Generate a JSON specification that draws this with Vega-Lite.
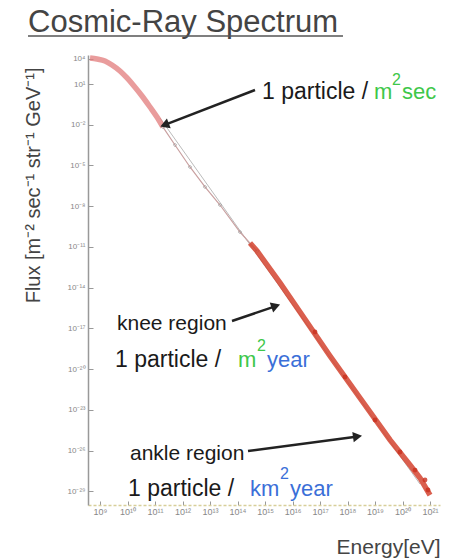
{
  "$schema": "https://vega.github.io/schema/vega-lite/v6.json",
  "width": 352,
  "height": 450,
  "autosize": {"type": "none"},
  "padding": {"left": 88, "top": 55, "right": 9, "bottom": 53},
  "background": "white",
  "config": {"view": {"stroke": null}, "font": "Liberation Sans"},
  "datasets": {
    "heading": [{"text": "Cosmic-Ray Spectrum", "E": 2.41e6, "E2": 6.85e17, "F": 1.72e7, "F2": 5.68e6}],
    "fit": [{"E": 1.52e11, "F": 3.13e-2}, {"E": 4.33e20, "F": 3.47e-29}],
    "spectrum": [
      {"series": "low", "E": 4.33e8, "F": 1.31e4},
      {"series": "low", "E": 7.78e8, "F": 1.0e4},
      {"series": "low", "E": 1.52e9, "F": 5.75e3},
      {"series": "low", "E": 2.73e9, "F": 1.91e3},
      {"series": "low", "E": 5.33e9, "F": 363},
      {"series": "low", "E": 9.59e9, "F": 52.5},
      {"series": "low", "E": 1.72e10, "F": 7.13},
      {"series": "low", "E": 3.37e10, "F": 1.31},
      {"series": "low", "E": 6.58e10, "F": 0.202},
      {"series": "low", "E": 1.18e11, "F": 0.0372},
      {"series": "low", "E": 1.95e11, "F": 6.76e-3},
      {"series": "mid", "E": 1.95e11, "F": 6.76e-3},
      {"series": "mid", "E": 5.33e11, "F": 3.24e-4},
      {"series": "mid", "E": 1.87e12, "F": 7.76e-6},
      {"series": "mid", "E": 6.58e12, "F": 2.63e-7},
      {"series": "mid", "E": 2.31e13, "F": 1.23e-8},
      {"series": "mid", "E": 1.23e14, "F": 1.26e-10},
      {"series": "mid", "E": 5.12e14, "F": 5.01e-12},
      {"series": "high", "E": 2.85e14, "F": 1.95e-11},
      {"series": "high", "E": 5.12e14, "F": 5.01e-12},
      {"series": "high", "E": 3.51e15, "F": 2.24e-14},
      {"series": "high", "E": 1.87e16, "F": 1.62e-16},
      {"series": "high", "E": 2.31e17, "F": 9.33e-20},
      {"series": "high", "E": 2.85e18, "F": 7.59e-23},
      {"series": "high", "E": 3.51e19, "F": 6.17e-26},
      {"series": "high", "E": 1.87e20, "F": 8.71e-28},
      {"series": "high", "E": 4.33e20, "F": 9.77e-29},
      {"series": "high", "E": 1.0e21, "F": 5.37e-30}
    ],
    "scatter": [
      {"E": 6.58e16, "F": 5.5e-18},
      {"E": 8.11e17, "F": 2.63e-21},
      {"E": 1.0e19, "F": 1.82e-24},
      {"E": 8.11e19, "F": 7.94e-27},
      {"E": 2.85e20, "F": 3.72e-28},
      {"E": 6.58e20, "F": 6.9e-29},
      {"E": 8.45e20, "F": 1.26e-29}
    ],
    "arrows": [
      {"arrow": "sec", "E": 4.33e14, "F": 3.61, "E2": 2.51e11, "F2": 1.05e-2},
      {"arrow": "knee", "E": 6.31e13, "F": 3.55e-17, "E2": 2.18e15, "F2": 4.07e-16},
      {"arrow": "ankle", "E": 2.41e14, "F": 9.33e-27, "E2": 2.04e18, "F2": 1.07e-25}
    ],
    "labels": [
      {"role": "particle", "unit": "none", "text": "1 particle /", "E": 7.78e14, "F": 2.58},
      {"role": "unit", "unit": "m2", "text": "m", "E": 9.2e18, "F": 2.58},
      {"role": "sup", "unit": "m2", "text": "2", "E": 4.15e19, "F": 30.2},
      {"role": "unit", "unit": "sec", "text": "sec", "E": 9.59e19, "F": 2.58},
      {"role": "region", "unit": "none", "text": "knee region", "E": 4.15e9, "F": 2.14e-17},
      {"role": "particle", "unit": "none", "text": "1 particle /", "E": 3.51e9, "F": 4.79e-20},
      {"role": "unit", "unit": "m2", "text": "m", "E": 1.04e14, "F": 4.79e-20},
      {"role": "sup", "unit": "m2", "text": "2", "E": 5.12e14, "F": 5.13e-19},
      {"role": "unit", "unit": "year", "text": "year", "E": 1.18e15, "F": 4.79e-20},
      {"role": "region", "unit": "none", "text": "ankle region", "E": 1.23e10, "F": 5.62e-27},
      {"role": "particle", "unit": "none", "text": "1 particle /", "E": 1.04e10, "F": 1.51e-29},
      {"role": "unit", "unit": "km2", "text": "km", "E": 2.85e14, "F": 1.51e-29},
      {"role": "sup", "unit": "km2", "text": "2", "E": 3.51e15, "F": 1.82e-28},
      {"role": "unit", "unit": "year", "text": "year", "E": 8.11e15, "F": 1.51e-29}
    ]
  },
  "encoding": {
    "x": {
      "field": "E", "type": "quantitative",
      "scale": {"type": "log", "domain": [3.66e8, 2.31e21], "nice": false},
      "axis": {
        "values": [1e9, 1e10, 1e11, 1e12, 1e13, 1e14, 1e15, 1e16, 1e17, 1e18, 1e19, 1e20, 1e21],
        "labelExpr": "'10' + replace(replace(replace(replace(replace(replace(replace(replace(replace(replace(replace('' + round(log(datum.value)/LN10), regexp('-','g'), '⁻'), regexp('0','g'), '⁰'), regexp('1','g'), '¹'), regexp('2','g'), '²'), regexp('3','g'), '³'), regexp('4','g'), '⁴'), regexp('5','g'), '⁵'), regexp('6','g'), '⁶'), regexp('7','g'), '⁷'), regexp('8','g'), '⁸'), regexp('9','g'), '⁹')",
        "grid": false,
        "domainColor": "#d8cf9a", "domainDash": [3, 2], "domainWidth": 1.5,
        "tickColor": "#999", "tickSize": -4,
        "labelFontSize": 9, "labelColor": "#888", "labelPadding": 6,
        "title": "Energy[eV]", "titleAnchor": "end", "titleFontSize": 21, "titleFontWeight": "normal", "titleColor": "#444", "titlePadding": 20
      }
    },
    "y": {
      "field": "F", "type": "quantitative",
      "scale": {"type": "log", "domain": [1e-30, 10, 3e4], "range": [450, 29, 0], "nice": false},
      "axis": {
        "values": [1e4, 10, 1e-2, 1e-5, 1e-8, 1e-11, 1e-14, 1e-17, 1e-20, 1e-23, 1e-26, 1e-29],
        "labelExpr": "'10' + replace(replace(replace(replace(replace(replace(replace(replace(replace(replace(replace('' + round(log(datum.value)/LN10), regexp('-','g'), '⁻'), regexp('0','g'), '⁰'), regexp('1','g'), '¹'), regexp('2','g'), '²'), regexp('3','g'), '³'), regexp('4','g'), '⁴'), regexp('5','g'), '⁵'), regexp('6','g'), '⁶'), regexp('7','g'), '⁷'), regexp('8','g'), '⁸'), regexp('9','g'), '⁹')",
        "grid": false,
        "domainColor": "#999", "domainWidth": 1.5,
        "tickColor": "#999", "tickSize": -5,
        "labelFontSize": 8, "labelColor": "#888", "labelPadding": 8,
        "title": "Flux [m⁻² sec⁻¹ str⁻¹ GeV⁻¹]", "titleFontSize": 20, "titleFontWeight": "normal", "titleColor": "#444",
        "titleAnchor": "end", "titleY": 12, "titlePadding": 24
      }
    }
  },
  "layer": [
    {"data": {"name": "heading"}, "mark": {"type": "text", "align": "left", "baseline": "alphabetic", "fontSize": 31, "color": "#444", "font": "Liberation Sans"}, "encoding": {"text": {"field": "text"}}},
    {"data": {"name": "heading"}, "mark": {"type": "rule", "color": "#555", "strokeWidth": 1.5}, "encoding": {"x2": {"field": "E2"}, "y": {"field": "F2", "type": "quantitative"}}},
    {"data": {"name": "fit"}, "mark": {"type": "line", "color": "#bbb", "strokeWidth": 1}, "encoding": {}},
    {"data": {"name": "spectrum"}, "transform": [{"filter": "datum.series == 'low'"}], "mark": {"type": "line", "color": "#e27b7b", "strokeWidth": 5.5, "opacity": 0.75, "interpolate": "monotone"}, "encoding": {}},
    {"data": {"name": "spectrum"}, "transform": [{"filter": "datum.series == 'mid'"}], "mark": {"type": "line", "color": "#c9a0a0", "strokeWidth": 1.2}, "encoding": {}},
    {"data": {"name": "spectrum"}, "transform": [{"filter": "datum.series == 'mid'"}], "mark": {"type": "point", "shape": "diamond", "color": "#999", "size": 12, "strokeWidth": 1}, "encoding": {}},
    {"data": {"name": "spectrum"}, "transform": [{"filter": "datum.series == 'high'"}], "mark": {"type": "line", "color": "#d4432f", "strokeWidth": 5.5, "opacity": 0.85}, "encoding": {}},
    {"data": {"name": "scatter"}, "mark": {"type": "circle", "color": "#c8301e", "size": 24, "opacity": 0.8}, "encoding": {}},
    {"data": {"name": "arrows"}, "mark": {"type": "rule", "color": "#222", "strokeWidth": 2.5}, "encoding": {"x2": {"field": "E2"}, "y2": {"field": "F2"}}},
    {"data": {"name": "arrows"}, "transform": [{"filter": "datum.arrow == 'sec'"}], "mark": {"type": "point", "shape": "triangle", "filled": true, "color": "#222", "size": 110, "angle": 249, "opacity": 1}, "encoding": {"x": {"field": "E2", "type": "quantitative"}, "y": {"field": "F2", "type": "quantitative"}}},
    {"data": {"name": "arrows"}, "transform": [{"filter": "datum.arrow == 'knee'"}], "mark": {"type": "point", "shape": "triangle", "filled": true, "color": "#222", "size": 110, "angle": 71, "opacity": 1}, "encoding": {"x": {"field": "E2", "type": "quantitative"}, "y": {"field": "F2", "type": "quantitative"}}},
    {"data": {"name": "arrows"}, "transform": [{"filter": "datum.arrow == 'ankle'"}], "mark": {"type": "point", "shape": "triangle", "filled": true, "color": "#222", "size": 110, "angle": 82, "opacity": 1}, "encoding": {"x": {"field": "E2", "type": "quantitative"}, "y": {"field": "F2", "type": "quantitative"}}},
    {"data": {"name": "labels"}, "transform": [{"filter": "datum.role == 'particle'"}], "mark": {"type": "text", "align": "left", "baseline": "middle", "font": "Liberation Sans", "fontSize": 23, "color": "#1a1a1a"}, "encoding": {"text": {"field": "text"}}},
    {"data": {"name": "labels"}, "transform": [{"filter": "datum.role == 'region'"}], "mark": {"type": "text", "align": "left", "baseline": "middle", "font": "Liberation Sans", "fontSize": 21, "color": "#1a1a1a"}, "encoding": {"text": {"field": "text"}}},
    {"data": {"name": "labels"}, "transform": [{"filter": "datum.role == 'unit'"}], "mark": {"type": "text", "align": "left", "baseline": "middle", "font": "Liberation Sans", "fontSize": 22}, "encoding": {
      "text": {"field": "text"},
      "color": {"field": "unit", "type": "nominal", "scale": {"domain": ["none", "m2", "sec", "year", "km2"], "range": ["#1a1a1a", "#3ec74a", "#3ec74a", "#3b6fd8", "#3b6fd8"]}, "legend": null}}},
    {"data": {"name": "labels"}, "transform": [{"filter": "datum.role == 'sup'"}], "mark": {"type": "text", "align": "left", "baseline": "middle", "font": "Liberation Sans", "fontSize": 16}, "encoding": {
      "text": {"field": "text"},
      "color": {"field": "unit", "type": "nominal", "legend": null}}}
  ]
}
